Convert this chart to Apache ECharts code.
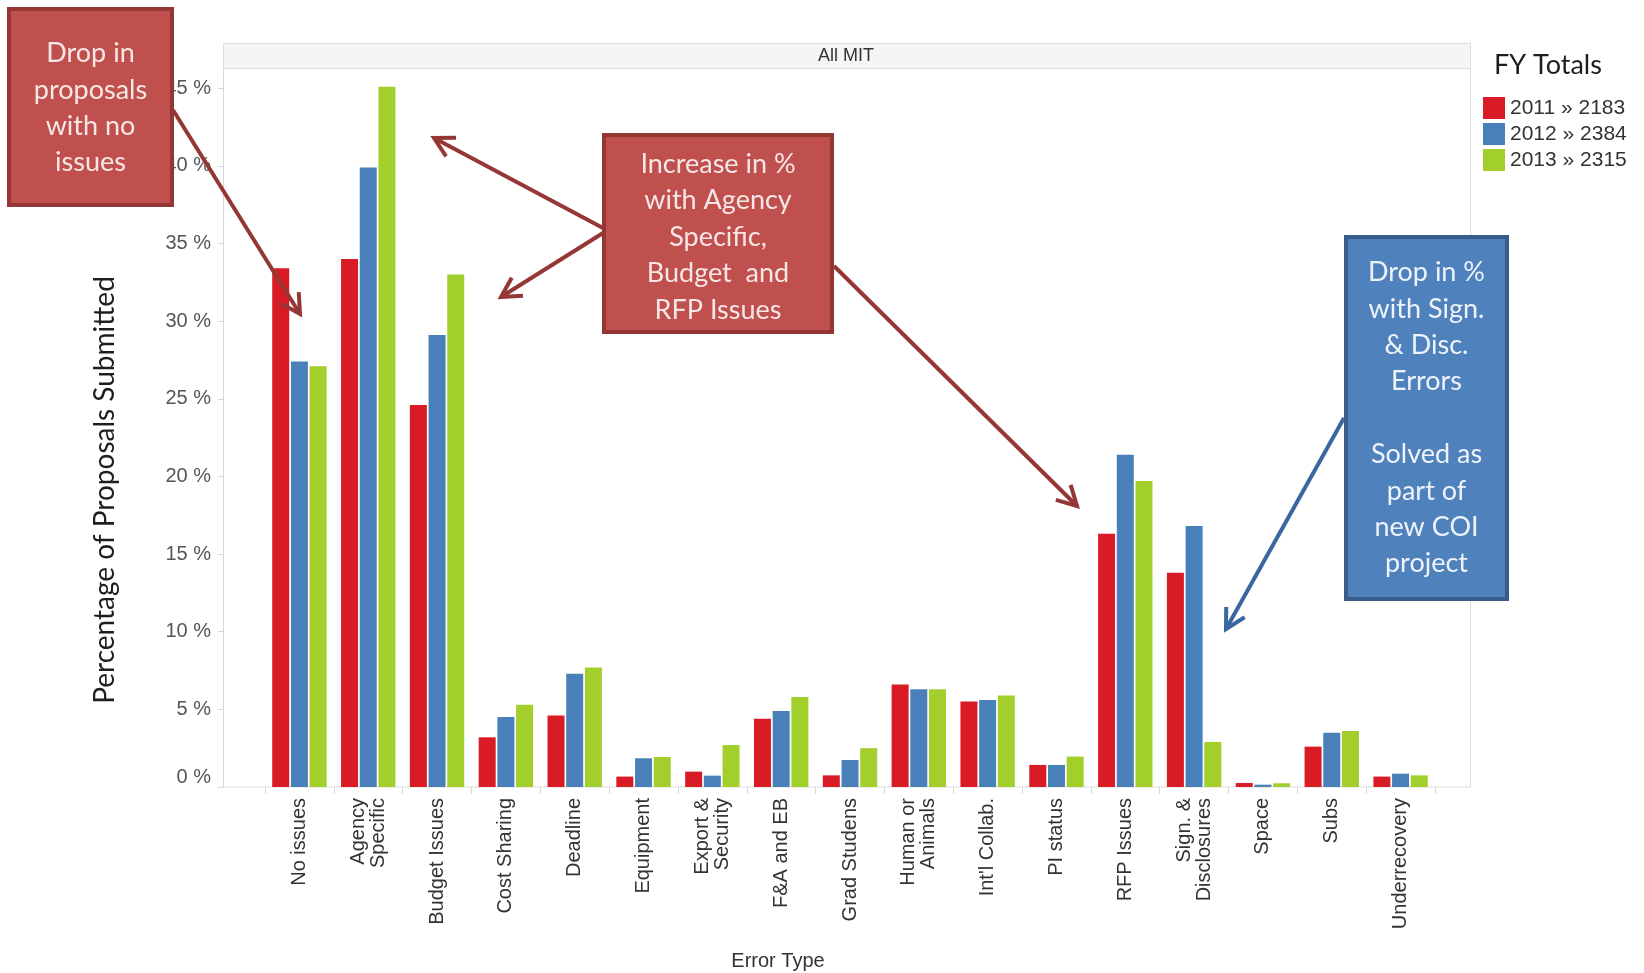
<!DOCTYPE html>
<html>
<head>
<meta charset="utf-8">
<title>Error Type by FY - All MIT</title>
<script src="https://cdn.jsdelivr.net/npm/echarts@6/dist/echarts.min.js"></script>
<style>
  html, body { margin: 0; padding: 0; background: #fff; }
  #chart { width: 1644px; height: 973px; }
</style>
</head>
<body>
<div id="chart"></div>
<script>
// categories (x axis)
var categories = ['No issues', 'Agency\nSpecific', 'Budget Issues', 'Cost Sharing', 'Deadline',
  'Equipment', 'Export &\nSecurity', 'F&A and EB', 'Grad Studens', 'Human or\nAnimals',
  "Int'l Collab.", 'PI status', 'RFP Issues', 'Sign. &\nDisclosures', 'Space', 'Subs', 'Underrecovery'];

// fiscal years and their totals (legend)
var years = ['2011', '2012', '2013'];
var totals = [2183, 2384, 2315];

// % of proposals submitted
var fy2011 = [33.4, 34.0, 24.6, 3.2, 4.6, 0.67, 0.99, 4.4, 0.75, 6.6, 5.5, 1.42, 16.3, 13.8, 0.26, 2.6, 0.67];
var fy2012 = [27.4, 39.9, 29.1, 4.5, 7.3, 1.85, 0.73, 4.9, 1.74, 6.3, 5.6, 1.42, 21.4, 16.8, 0.15, 3.5, 0.86];
var fy2013 = [27.1, 45.1, 33.0, 5.3, 7.7, 1.93, 2.7, 5.8, 2.5, 6.3, 5.9, 1.96, 19.7, 2.9, 0.24, 3.6, 0.75];

var yTicks = [0, 5, 10, 15, 20, 25, 30, 35, 40, 45];

var colors = ['#d81b24', '#4a80b9', '#a2cf2c'];
var seriesData = [fy2011, fy2012, fy2013];

var myChart = echarts.init(document.getElementById('chart'));

// arrow = line + open "V" head
function arrow(x1, y1, x2, y2, color) {
    var a = Math.atan2(y2 - y1, x2 - x1);
    var L = 22, s = 0.5;
    return [
        { type: 'line', z: 20, shape: { x1: x1, y1: y1, x2: x2, y2: y2 },
          style: { stroke: color, lineWidth: 4 } },
        { type: 'polyline', z: 20,
          shape: { points: [
              [x2 - L * Math.cos(a - s), y2 - L * Math.sin(a - s)],
              [x2, y2],
              [x2 - L * Math.cos(a + s), y2 - L * Math.sin(a + s)]
          ] },
          style: { stroke: color, lineWidth: 4, fill: null } }
    ];
}

// callout box with centered text
function box(x, y, w, h, fill, stroke, lines, textColor, cy) {
    return [
        { type: 'rect', z: 30, shape: { x: x, y: y, width: w, height: h },
          style: { fill: fill, stroke: stroke, lineWidth: 4 } },
        { type: 'text', z: 31, x: x + w / 2, y: cy,
          style: { text: lines.join('\n'), align: 'center', verticalAlign: 'middle',
                   font: '27px Lato', lineHeight: 36.4, fill: textColor } }
    ];
}

var graphics = [
    // plot frame + "All MIT" header strip
    { type: 'rect', z: 0, shape: { x: 223.5, y: 43.5, width: 1247, height: 743.5 },
      style: { fill: null, stroke: '#dcdcdc', lineWidth: 1 } },
    { type: 'rect', z: 0, shape: { x: 223.5, y: 43.5, width: 1247, height: 25 },
      style: { fill: '#f5f5f5', stroke: '#dcdcdc', lineWidth: 1 } },
    { type: 'text', z: 1, x: 846, y: 56,
      style: { text: 'All MIT', align: 'center', verticalAlign: 'middle',
               font: '18px "Liberation Sans"', fill: '#333' } },
    // axis titles
    { type: 'text', x: 105, y: 490, rotation: Math.PI / 2,
      style: { text: 'Percentage of Proposals Submitted', align: 'center', verticalAlign: 'middle',
               font: '28px Lato', fill: '#1e1e1e' } },
    { type: 'text', x: 778, y: 961,
      style: { text: 'Error Type', align: 'center', verticalAlign: 'middle',
               font: '20px "Liberation Sans"', fill: '#333' } },
    // legend title
    { type: 'text', x: 1494, y: 65,
      style: { text: 'FY Totals', align: 'left', verticalAlign: 'middle',
               font: '27px Lato', fill: '#1e1e1e' } }
];

graphics = graphics
    .concat(arrow(173, 110, 300, 314, '#953735'))
    .concat(arrow(603, 228, 434, 138, '#953735'))
    .concat(arrow(603, 233, 501, 297, '#953735'))
    .concat(arrow(834, 266, 1077, 506, '#953735'))
    .concat(arrow(1344, 418, 1226, 629, '#3a67a0'))
    .concat(box(9, 9, 163, 196, '#c0504d', '#943634',
        ['Drop in', 'proposals', 'with no', 'issues'], '#f7e6e6', 108))
    .concat(box(604, 135, 228, 197, '#c0504d', '#943634',
        ['Increase in %', 'with Agency', 'Specific,', 'Budget  and', 'RFP Issues'], '#f7e6e6', 237))
    .concat(box(1346, 237, 161, 362, '#4f81bd', '#385d8a',
        ['Drop in %', 'with Sign.', '& Disc.', 'Errors', '', 'Solved as', 'part of', 'new COI', 'project'],
        '#eef3fa', 418));

var option = {
    backgroundColor: '#fff',
    animation: false,
    color: colors,
    graphic: graphics,
    legend: {
        orient: 'vertical',
        left: 1478,
        top: 92,
        icon: 'rect',
        itemWidth: 22,
        itemHeight: 22,
        itemGap: 4,
        textStyle: { fontFamily: 'Liberation Sans', fontSize: 21, color: '#333', lineHeight: 22 },
        data: years.map(function (y, i) { return y + ' » ' + totals[i]; })
    },
    grid: { left: 265, right: 209, top: 68, bottom: 186, containLabel: false },
    xAxis: {
        type: 'category',
        data: categories,
        axisLine: { show: false },
        axisTick: { show: true, length: 7, lineStyle: { color: '#d6d6d6' } },
        axisLabel: {
            interval: 0, rotate: 90, margin: 11,
            fontFamily: 'Liberation Sans', fontSize: 20, lineHeight: 20, color: '#333'
        }
    },
    yAxis: {
        type: 'value',
        min: 0,
        max: 46.3,
        offset: 42,
        axisLine: { show: true, lineStyle: { color: '#d6d6d6' } },
        axisTick: { show: true, length: 5, customValues: yTicks, lineStyle: { color: '#d6d6d6' } },
        splitLine: { show: false },
        axisLabel: {
            customValues: yTicks,
            margin: 12,
            verticalAlignMinLabel: 'bottom',
            fontFamily: 'Liberation Sans', fontSize: 20, color: '#555',
            formatter: function (v) { return v + ' %'; }
        }
    },
    series: seriesData.map(function (d, i) {
        return {
            name: years[i] + ' » ' + totals[i],
            type: 'bar',
            barWidth: 17,
            barGap: '10%',
            data: d
        };
    })
};
myChart.setOption(option);
</script>
</body>
</html>
